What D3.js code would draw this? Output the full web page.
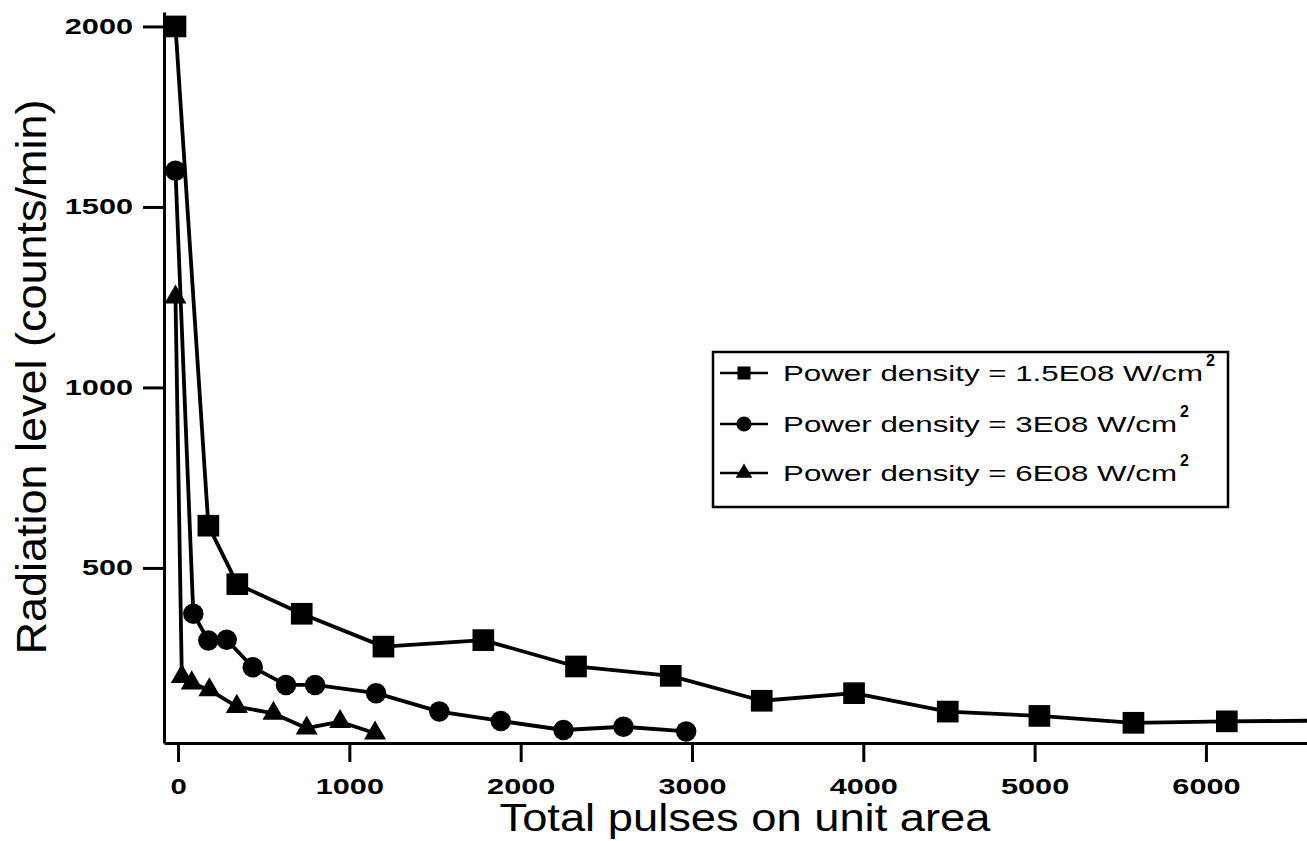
<!DOCTYPE html>
<html>
<head>
<meta charset="utf-8">
<script src="https://cdn.jsdelivr.net/npm/d3@7"></script>
<style>
	body { margin: 0; background: #fff; }
	svg { display: block; font-family: "Liberation Sans", Arial, Helvetica, sans-serif; }
</style>
</head>
<body>
<svg id="chart" width="1307" height="841"></svg>
<script>

// Data

var pulses15 = [-15, 177, 346, 722, 1199, 1782, 2323, 2876, 3407, 3946, 4493, 5028, 5577, 6122, 6700];
var level15 = [2000, 617, 455, 373, 282, 300, 227, 201, 132, 153, 102, 90, 71, 75, 77];

var pulses3 = [-15, 89, 177, 284, 436, 630, 800, 1156, 1525, 1884, 2250, 2600, 2966];
var level3 = [1600, 373, 299, 301, 225, 176, 176, 153, 102, 76, 51, 60, 47];

var pulses6 = [-15, 22, 80, 183, 343, 557, 751, 946, 1150];
var level6 = [1250, 199, 181, 162, 116, 97, 56, 74, 42];

var xTicks = [0, 1000, 2000, 3000, 4000, 5000, 6000];
var yTicks = [500, 1000, 1500, 2000];

var legendLabels = ["Power density = 1.5E08 W/cm", "Power density = 3E08 W/cm", "Power density = 6E08 W/cm"];

var svg = d3.select("#chart");

var x = d3.scaleLinear().domain([-82, 6590]).range([164, 1307]);
var y = d3.scaleLinear().domain([15, 2040]).range([743, 12]);

// Axes

var xAxis = svg.append("g")
	.attr("transform", "translate(0,743)")
	.call(d3.axisBottom(x).tickValues(xTicks).tickFormat(d3.format("d")).tickSize(19).tickSizeOuter(0).tickPadding(16));

var yAxis = svg.append("g")
	.attr("transform", "translate(164,0)")
	.call(d3.axisLeft(y).tickValues(yTicks).tickFormat(d3.format("d")).tickSize(21).tickSizeOuter(0).tickPadding(10));

[xAxis, yAxis].forEach(function (g) {
	g.select(".domain").attr("stroke", "#000").attr("stroke-width", 3);
	g.selectAll(".tick line").attr("stroke", "#000").attr("stroke-width", 3);
	g.selectAll(".tick text")
		.attr("fill", "#000")
		.style("font-size", "22px")
		.style("font-weight", "bold")
		.attr("lengthAdjust", "spacingAndGlyphs")
		.attr("textLength", function (d) { return String(d).length * 17.3 - 1; });
});

// Titles

svg.append("text")
	.attr("x", 745)
	.attr("y", 831)
	.attr("text-anchor", "middle")
	.attr("textLength", 491)
	.attr("lengthAdjust", "spacingAndGlyphs")
	.style("font-size", "38px")
	.text("Total pulses on unit area");

svg.append("text")
	.attr("transform", "translate(46,377) rotate(-90)")
	.attr("text-anchor", "middle")
	.attr("textLength", 555)
	.attr("lengthAdjust", "spacingAndGlyphs")
	.style("font-size", "42px")
	.text("Radiation level (counts/min)");

// Series

var series = [
	{ xs: pulses15, ys: level15, symbol: d3.symbolSquare, size: 470, legendSize: 170 },
	{ xs: pulses3, ys: level3, symbol: d3.symbolCircle, size: 330, legendSize: 180 },
	{ xs: pulses6, ys: level6, symbol: d3.symbolTriangle, size: 210, legendSize: 120 }
];

var line = d3.line()
	.x(function (d) { return x(d[0]); })
	.y(function (d) { return y(d[1]); });

series.forEach(function (s) {
	var points = s.xs.map(function (v, i) { return [v, s.ys[i]]; });

	svg.append("path")
		.datum(points)
		.attr("fill", "none")
		.attr("stroke", "#000")
		.attr("stroke-width", 3.8)
		.attr("stroke-linejoin", "round")
		.attr("d", line);

	svg.append("g").selectAll("path")
		.data(points)
		.enter().append("path")
		.attr("fill", "#000")
		.attr("d", d3.symbol().type(s.symbol).size(s.size))
		.attr("transform", function (d) {
			return "translate(" + x(d[0]) + "," + y(d[1]) + ")";
		});
});

// Legend

var legend = svg.append("g");

legend.append("rect")
	.attr("x", 713)
	.attr("y", 352)
	.attr("width", 515)
	.attr("height", 155)
	.attr("fill", "#fff")
	.attr("stroke", "#000")
	.attr("stroke-width", 2.5);

var rowY = [373, 424, 473];
var textWidths = [420, 394, 394];

series.forEach(function (s, i) {
	var row = legend.append("g").attr("transform", "translate(0," + rowY[i] + ")");

	row.append("line")
		.attr("x1", 720).attr("x2", 768)
		.attr("y1", 0).attr("y2", 0)
		.attr("stroke", "#000")
		.attr("stroke-width", 2.5);

	row.append("path")
		.attr("fill", "#000")
		.attr("d", d3.symbol().type(s.symbol).size(s.legendSize))
		.attr("transform", "translate(744,0)");

	row.append("text")
		.attr("x", 783)
		.attr("y", 8)
		.attr("textLength", textWidths[i])
		.attr("lengthAdjust", "spacingAndGlyphs")
		.style("font-size", "22px")
		.text(legendLabels[i]);

	row.append("text")
		.attr("x", 783 + textWidths[i] + 3)
		.attr("y", -7)
		.style("font-size", "16px")
		.style("font-weight", "bold")
		.text("2");
});

</script>
</body>
</html>
